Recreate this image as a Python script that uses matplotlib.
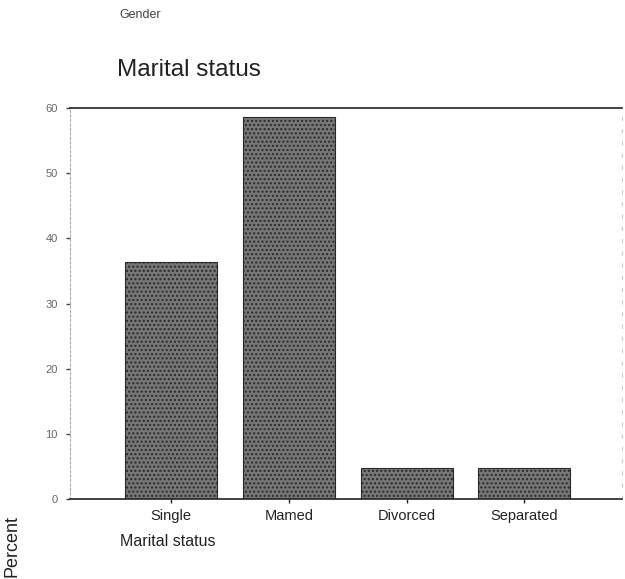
import matplotlib
matplotlib.use("Agg")
import matplotlib.pyplot as plt

plt.rcParams["font.family"] = ["Liberation Sans", "DejaVu Sans"]

categories = ["Single", "Married", "Divorced", "Separated"]
tick_labels = ["Single", "Mamed", "Divorced", "Separated"]
percent = [36.3, 58.6, 4.7, 4.7]
y_ticks = [0, 10, 20, 30, 40, 50, 60]

W, H = 625, 579
fig = plt.figure(figsize=(W / 100, H / 100), dpi=100)
ax = fig.add_axes([70 / W, 1 - 499 / H, 552 / W, 391 / H])

x = range(len(categories))
ax.bar(x, percent, width=0.78, color="#767676", edgecolor="#2a2a2a",
       linewidth=0.8, hatch="....", zorder=2)

ax.set_xlim(-0.86, 3.83)
ax.set_ylim(0, 60)
ax.set_yticks(y_ticks)
ax.set_yticklabels([str(v) for v in y_ticks], fontsize=8, color="#666666")
ax.set_xticks(list(x))
ax.set_xticklabels(tick_labels, fontsize=10.5, color="#222222")
ax.tick_params(axis="y", length=3, width=1, color="#444444", pad=6)
ax.tick_params(axis="x", length=3, width=1, color="#222222", pad=4)

ax.spines["top"].set_color("#222222")
ax.spines["top"].set_linewidth(1.2)
ax.spines["bottom"].set_color("#222222")
ax.spines["bottom"].set_linewidth(1.2)
ax.spines["left"].set_color("#aaaaaa")
ax.spines["left"].set_linestyle((0, (2, 2)))
ax.spines["left"].set_linewidth(0.8)
ax.spines["right"].set_color("#cccccc")
ax.spines["right"].set_linestyle((0, (3, 8)))
ax.spines["right"].set_linewidth(0.8)

fig.text(119 / W, 1 - 15 / H, "Gender", fontsize=9, color="#444444",
         va="center", ha="left")
fig.text(117 / W, 1 - 70 / H, "Marital status", fontsize=17.5, color="#222222",
         va="center", ha="left")
fig.text(120 / W, 1 - 541 / H, "Marital status", fontsize=11.5, color="#222222",
         va="center", ha="left")
fig.text(12 / W, 1 - 546 / H, "Percent", fontsize=13, color="#222222",
         va="center", ha="center", rotation=90)

fig.savefig("out.png", dpi=100)
